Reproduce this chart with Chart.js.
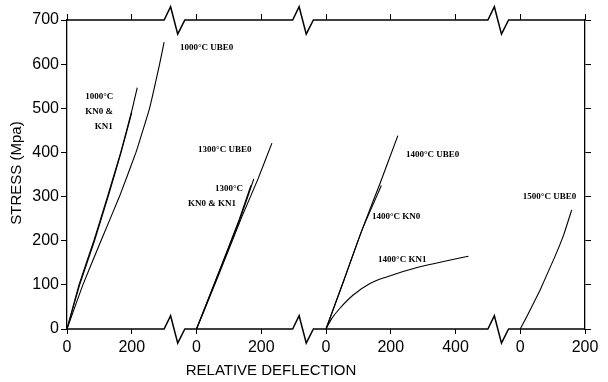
<!DOCTYPE html>
<html>
<head>
<meta charset="utf-8">
<script src="https://cdn.jsdelivr.net/npm/chart.js@4"></script>
<style>
  html, body { margin: 0; padding: 0; background: #fff; }
  canvas { display: block; }
</style>
</head>
<body>
<canvas id="chart" width="608" height="382"></canvas>
<script>
// Ticks of the broken x axis (one continuous scale, 4 panels)
const xTickLabels = ['0', '200', '0', '200', '0', '200', '400', '0', '200'];
const yTicks = [0, 100, 200, 300, 400, 500, 600, 700];
const panelOffset = [0, 400, 800, 1400];
const breakStarts = [300, 697, 1300];

// Curves: [relative deflection, stress MPa]
const ube0_1000 = [[0, 0], [49, 100], [105, 200], [162, 300], [213, 400], [255, 500], [286, 600], [300, 650]];
const kn0_1000 = [[0, 0], [37, 100], [83, 200], [125, 300], [166, 400], [202, 500], [217, 547]];
const kn1_1000 = [[0, 0], [39, 100], [85, 200], [127, 300], [167, 400], [200, 490]];
const ube0_1300 = [[0, 0], [20, 35], [62, 111], [140, 254], [190, 340], [233, 421]];
const kn0_1300 = [[0, 0], [60, 111], [135, 250], [177, 340]];
const kn1_1300 = [[0, 0], [58, 108], [132, 248], [168, 325]];
const ube0_1400 = [[0, 0], [55, 110], [111, 224], [168, 332], [222, 438]];
const kn0_1400 = [[0, 0], [55, 110], [111, 224], [171, 325]];
const kn1_1400 = [[0, 0], [18, 24], [43, 47], [84, 77], [136, 103], [187, 118], [290, 141], [370, 154], [440, 165]];
const ube0_1500 = [[0, 0], [20, 28], [61, 88], [107, 164], [135, 215], [159, 270]];

// Curve labels, anchored in data units
const curveLabels = [
    { text: '1000°C UBE0', x: 349, y: 637 },
    { text: '1000°C', x: 56, y: 526 },
    { text: 'KN0 &', x: 56, y: 492 },
    { text: 'KN1', x: 86, y: 458 },
    { text: '1300°C UBE0', x: 405, y: 406 },
    { text: '1300°C', x: 457, y: 317 },
    { text: 'KN0 & KN1', x: 374, y: 283 },
    { text: '1400°C UBE0', x: 1047, y: 394 },
    { text: '1400°C KN0', x: 942, y: 254 },
    { text: '1400°C KN1', x: 961, y: 156 },
    { text: '1500°C UBE0', x: 1408, y: 299 }
];

const series = [
    [ube0_1000, 0], [kn0_1000, 0], [kn1_1000, 0],
    [ube0_1300, 1], [kn0_1300, 1], [kn1_1300, 1],
    [ube0_1400, 2], [kn0_1400, 2], [kn1_1400, 2],
    [ube0_1500, 3]
];

// horizontal axis line with the break zig-zags
function axisLine(yVal) {
    const pts = [{ x: 0, y: yVal }];
    breakStarts.forEach(b => {
        pts.push({ x: b, y: yVal }, { x: b + 20, y: yVal + 30 }, { x: b + 42, y: yVal - 32 }, { x: b + 64, y: yVal });
    });
    pts.push({ x: 1600, y: yVal });
    return pts;
}

const datasets = series.map(([pts, p]) => ({
    data: pts.map(([x, y]) => ({ x: x + panelOffset[p], y: y })),
    showLine: true,
    borderColor: '#000',
    borderWidth: 1.1,
    pointRadius: 0,
    tension: 0.1,
    // the bending 1400°C KN1 curve gets a smooth monotone spline
    cubicInterpolationMode: pts === kn1_1400 ? 'monotone' : 'default',
    fill: false
}));
[0, 700].forEach(v => datasets.push({
    data: axisLine(v),
    showLine: true,
    borderColor: '#000',
    borderWidth: 1.5,
    pointRadius: 0,
    tension: 0,
    clip: false,
    fill: false
}));

const textPlugin = {
    id: 'texts',
    afterDatasetsDraw(chart) {
        const { ctx, scales } = chart;
        ctx.save();
        ctx.fillStyle = '#000';
        ctx.font = 'bold 9px "Liberation Serif"';
        ctx.textAlign = 'left';
        ctx.textBaseline = 'middle';
        curveLabels.forEach(l => {
            ctx.fillText(l.text, scales.x.getPixelForValue(l.x), scales.y.getPixelForValue(l.y));
        });
        // axis titles
        ctx.font = '15px "Liberation Sans"';
        ctx.textAlign = 'center';
        ctx.fillText('RELATIVE DEFLECTION', 271, 371);
        ctx.translate(17, 173);
        ctx.rotate(-Math.PI / 2);
        ctx.fillText('STRESS (Mpa)', 0, 0);
        ctx.restore();
    }
};

const tickFont = { family: 'Liberation Sans', size: 16 };

new Chart(document.getElementById('chart').getContext('2d'), {
    type: 'scatter',
    data: { datasets },
    options: {
        responsive: false,
        animation: false,
        layout: { padding: 0 },
        plugins: { legend: { display: false }, tooltip: { enabled: false } },
        scales: {
            x: {
                type: 'linear', position: 'bottom', min: 0, max: 1600,
                ticks: {
                    stepSize: 200, autoSkip: false, maxRotation: 0, color: '#000', font: tickFont, padding: 4,
                    callback: v => xTickLabels[Math.round(v / 200)]
                },
                grid: { drawOnChartArea: false, tickLength: 5, color: '#000' },
                border: { display: false },
                afterFit: s => { s.height = 53; }
            },
            x2: {
                type: 'linear', position: 'top', min: 0, max: 1600,
                ticks: { stepSize: 200, display: false },
                grid: { drawOnChartArea: false, tickLength: 6, color: '#000' },
                border: { display: false },
                afterFit: s => { s.height = 20; }
            },
            y: {
                type: 'linear', position: 'left', min: 0, max: 700,
                afterBuildTicks: s => { s.ticks = yTicks.map(v => ({ value: v })); },
                ticks: { color: '#000', font: tickFont, padding: 2 },
                grid: { drawOnChartArea: false, tickLength: 6, color: '#000' },
                border: { display: true, color: '#000', width: 1.3 },
                afterFit: s => { s.width = 67; }
            },
            y2: {
                type: 'linear', position: 'right', min: 0, max: 700,
                ticks: { stepSize: 100, display: false },
                grid: { drawOnChartArea: false, tickLength: 6, color: '#000' },
                border: { display: true, color: '#000', width: 1.3 },
                afterFit: s => { s.width = 23; }
            }
        }
    },
    plugins: [textPlugin]
});
</script>
</body>
</html>
